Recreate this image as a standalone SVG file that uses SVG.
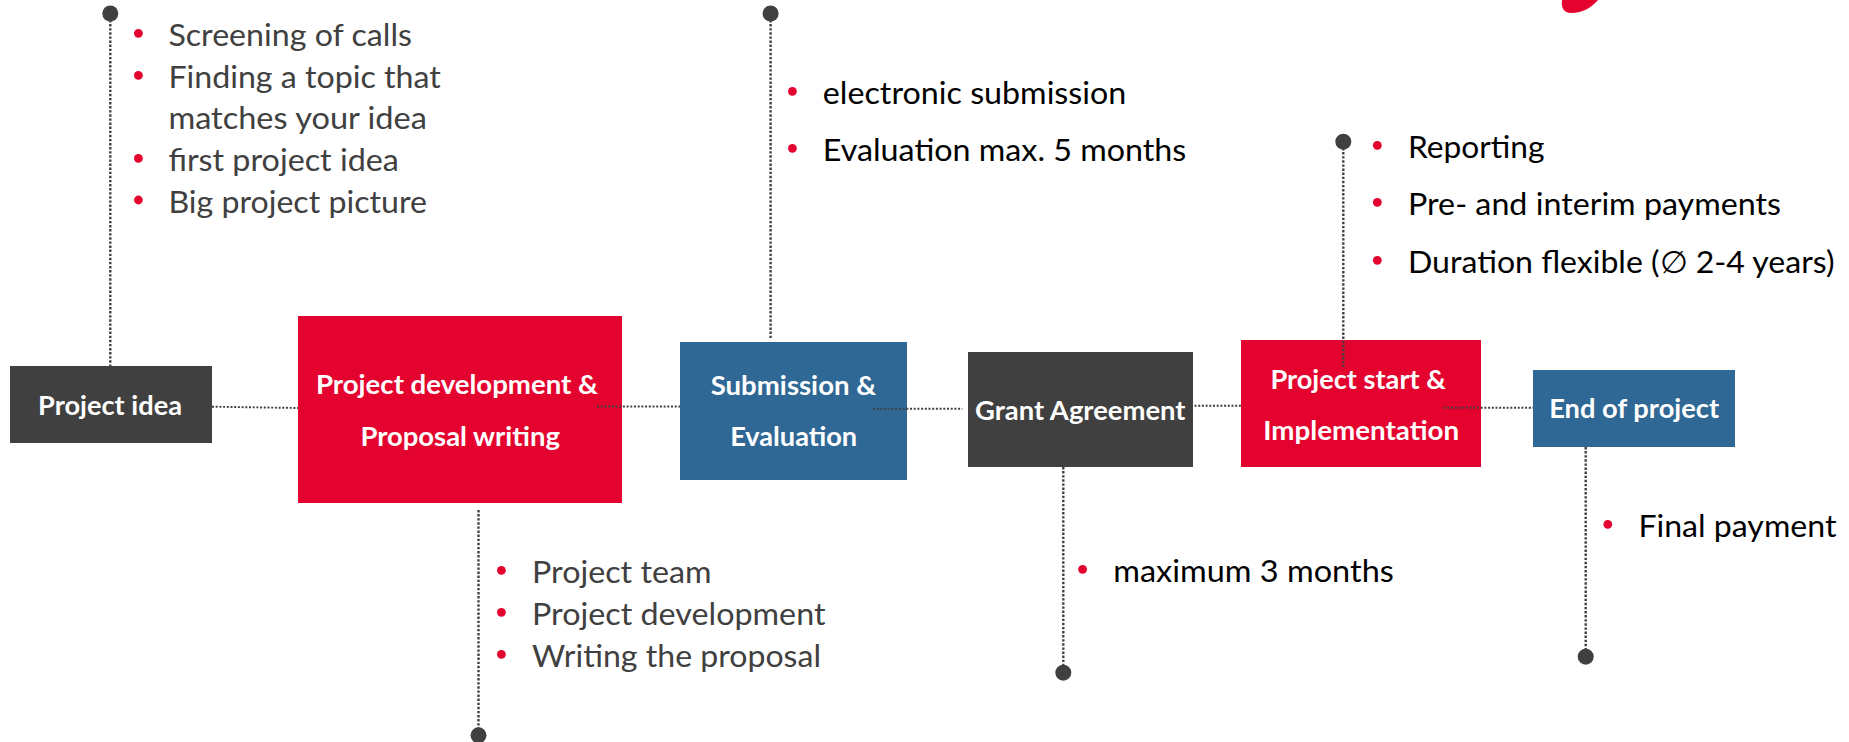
<svg xmlns="http://www.w3.org/2000/svg" width="1849" height="742" viewBox="0 0 1849 742">
<style>
.red{fill:#e4032e}.blue{fill:#306895}.dark{fill:#404040}
.lbl{font-family:Lato,"Liberation Sans",sans-serif;font-weight:700;font-size:26px;fill:#fff}
.item{font-family:Lato,"Liberation Sans",sans-serif;font-size:31px}
.g{fill:#404040}.k{fill:#000}
.v{stroke:#404040;stroke-width:2.4;stroke-dasharray:2.4 1.7;fill:none}
.h{stroke:#404040;stroke-width:1.9;stroke-dasharray:2 1.7;fill:none}
.dot{fill:#404040}
.b{fill:#e4032e}
</style>
<rect width="1849" height="742" fill="#fff"/>
<path class="red" d="M1562 0C1561 8 1564 13 1571 13C1583 13 1592 7 1598 0Z"/>
<g id="node-project-idea"><rect class="dark" x="10" y="366" width="202" height="77"/><text class="lbl" x="38" y="415" textLength="144" lengthAdjust="spacingAndGlyphs">Project idea</text></g>
<g id="node-proposal"><rect class="red" x="298" y="316" width="324" height="187"/><text class="lbl" x="316" y="394" textLength="282" lengthAdjust="spacingAndGlyphs">Project development &amp;</text><text class="lbl" x="360.4" y="446" textLength="199.5" lengthAdjust="spacingAndGlyphs">Proposal writing</text></g>
<g id="node-submission"><rect class="blue" x="680" y="342" width="227" height="138"/><text class="lbl" x="710.7" y="395.3" textLength="165.5" lengthAdjust="spacingAndGlyphs">Submission &amp;</text><text class="lbl" x="730.2" y="446" textLength="127" lengthAdjust="spacingAndGlyphs">Evaluation</text></g>
<g id="node-grant"><rect class="dark" x="968" y="352" width="225" height="115"/><text class="lbl" x="975" y="420.3" textLength="210.5" lengthAdjust="spacingAndGlyphs">Grant Agreement</text></g>
<g id="node-start"><rect class="red" x="1241" y="340" width="240" height="127"/><text class="lbl" x="1270.4" y="389.3" textLength="175.5" lengthAdjust="spacingAndGlyphs">Project start &amp;</text><text class="lbl" x="1263.2" y="440" textLength="196" lengthAdjust="spacingAndGlyphs">Implementation</text></g>
<g id="node-end"><rect class="blue" x="1533" y="370" width="202" height="77"/><text class="lbl" x="1549.2" y="418.3" textLength="170" lengthAdjust="spacingAndGlyphs">End of project</text></g>
<g id="connectors">
<path class="h" d="M212 406.7L298 408"/>
<path class="h" d="M597 406.5H680"/>
<path class="h" d="M873 408.7H962.4"/>
<path class="h" d="M1194.5 405.7H1241"/>
<path class="h" d="M1443.7 407.7H1533"/>
<path class="v" d="M110.3 20V366"/><circle class="dot" cx="110.3" cy="13.5" r="8"/>
<path class="v" d="M770.6 20V338"/><circle class="dot" cx="770.6" cy="13.5" r="8"/>
<path class="v" d="M1343.3 148V367"/><circle class="dot" cx="1343.3" cy="141.7" r="8"/>
<path class="v" d="M478.5 510V730"/><circle class="dot" cx="478.5" cy="735.3" r="8"/>
<path class="v" d="M1063.3 467V667"/><circle class="dot" cx="1063.3" cy="672.7" r="8"/>
<path class="v" d="M1585.7 447V651"/><circle class="dot" cx="1585.7" cy="656.7" r="8"/>
</g>
<g id="list-idea"><circle class="b" cx="138.4" cy="33.3" r="4.4"/><circle class="b" cx="138.4" cy="75.3" r="4.4"/><circle class="b" cx="138.4" cy="158.3" r="4.4"/><circle class="b" cx="138.4" cy="200" r="4.4"/>
<text class="item g" x="168.4" y="46" textLength="243.5" lengthAdjust="spacingAndGlyphs">Screening of calls</text>
<text class="item g" x="168.4" y="88" textLength="272.5" lengthAdjust="spacingAndGlyphs">Finding a topic that</text>
<text class="item g" x="168.4" y="129" textLength="258.5" lengthAdjust="spacingAndGlyphs">matches your idea</text>
<text class="item g" x="168.4" y="171" textLength="230.5" lengthAdjust="spacingAndGlyphs">first project idea</text>
<text class="item g" x="168.4" y="213" textLength="258.5" lengthAdjust="spacingAndGlyphs">Big project picture</text></g>
<g id="list-submission"><circle class="b" cx="792.4" cy="91.3" r="4.4"/><circle class="b" cx="792.4" cy="148.3" r="4.4"/>
<text class="item k" x="822.8" y="104" textLength="303.5" lengthAdjust="spacingAndGlyphs">electronic submission</text>
<text class="item k" x="822.8" y="161" textLength="363.5" lengthAdjust="spacingAndGlyphs">Evaluation max. 5 months</text></g>
<g id="list-start"><circle class="b" cx="1377.3" cy="145.3" r="4.4"/><circle class="b" cx="1377.3" cy="202.3" r="4.4"/><circle class="b" cx="1377.3" cy="260.3" r="4.4"/>
<text class="item k" x="1408" y="158" textLength="136.5" lengthAdjust="spacingAndGlyphs">Reporting</text>
<text class="item k" x="1408" y="214.8" textLength="373" lengthAdjust="spacingAndGlyphs">Pre- and interim payments</text>
<text class="item k" x="1408" y="273" textLength="426.5" lengthAdjust="spacingAndGlyphs">Duration flexible (∅ 2-4 years)</text></g>
<g id="list-proposal"><circle class="b" cx="501.4" cy="570.3" r="4.4"/><circle class="b" cx="501.4" cy="612.3" r="4.4"/><circle class="b" cx="501.4" cy="654.3" r="4.4"/>
<text class="item g" x="532" y="583" textLength="179.5" lengthAdjust="spacingAndGlyphs">Project team</text>
<text class="item g" x="532" y="625" textLength="293.5" lengthAdjust="spacingAndGlyphs">Project development</text>
<text class="item g" x="532" y="667" textLength="289" lengthAdjust="spacingAndGlyphs">Writing the proposal</text></g>
<g id="list-grant"><circle class="b" cx="1082.6" cy="569.3" r="4.4"/><text class="item k" x="1113.3" y="582" textLength="280.5" lengthAdjust="spacingAndGlyphs">maximum 3 months</text></g>
<g id="list-end"><circle class="b" cx="1607.8" cy="524.3" r="4.4"/><text class="item k" x="1638.4" y="537" textLength="198" lengthAdjust="spacingAndGlyphs">Final payment</text></g>
</svg>
